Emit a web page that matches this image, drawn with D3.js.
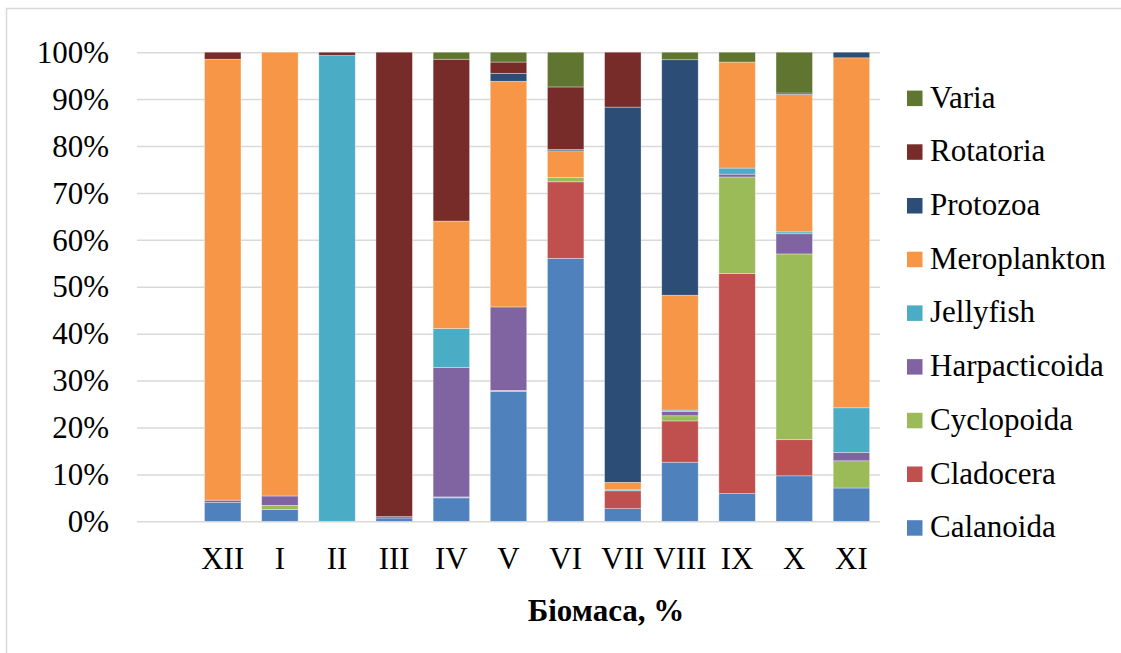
<!DOCTYPE html>
<html>
<head>
<meta charset="utf-8">
<script src="https://cdn.jsdelivr.net/npm/d3@7/dist/d3.min.js"></script>
<style>
  html, body { margin: 0; padding: 0; background: #fff; }
  svg { display: block; }
  text { font-family: "Liberation Serif", "Times New Roman", serif; fill: #000; }
</style>
</head>
<body>
<svg id="chart" width="1121" height="653"></svg>
<script>
// Months of the survey (Roman numerals), December to November
const months = ["XII", "I", "II", "III", "IV", "V", "VI", "VII", "VIII", "IX", "X", "XI"];

// Share of total biomass per group, %
const calanoida     = [4.0, 2.5, 0, 0.7, 5.0, 27.7, 56.0, 2.7, 12.6, 5.9, 9.7, 7.1];
const cladocera     = [0, 0, 0, 0, 0, 0.1, 16.3, 3.8, 8.8, 46.9, 7.7, 0];
const cyclopoida    = [0, 0.9, 0, 0, 0.2, 0.1, 0.9, 0, 1.1, 20.6, 39.6, 5.8];
const harpacticoida = [0.5, 2.0, 0, 0.3, 27.6, 17.8, 0, 0, 0.9, 0.6, 4.3, 1.8];
const jellyfish     = [0, 0, 99.3, 0, 8.3, 0, 0, 0.2, 0.3, 1.3, 0.4, 9.5];
const meroplankton  = [94.0, 94.6, 0, 0, 22.9, 48.1, 5.7, 1.6, 24.5, 22.6, 29.3, 74.6];
const protozoa      = [0, 0, 0, 0, 0, 1.7, 0.3, 79.9, 50.2, 0, 0.3, 1.2];
const rotatoria     = [1.5, 0, 0.7, 99.0, 34.5, 2.4, 13.3, 11.7, 0, 0, 0, 0];
const varia         = [0, 0, 0, 0, 1.5, 2.1, 7.4, 0, 1.6, 2.1, 8.7, 0];

const groupNames = ["Calanoida", "Cladocera", "Cyclopoida", "Harpacticoida", "Jellyfish",
                    "Meroplankton", "Protozoa", "Rotatoria", "Varia"];
const groupValues = [calanoida, cladocera, cyclopoida, harpacticoida, jellyfish,
                     meroplankton, protozoa, rotatoria, varia];
const groupColors = ["#4F81BD", "#C0504D", "#9BBB59", "#8064A2", "#4BACC6",
                     "#F79646", "#2C4D75", "#772C2A", "#5F7530"];

const yTicks = [0, 0.1, 0.2, 0.3, 0.4, 0.5, 0.6, 0.7, 0.8, 0.9, 1];
const axisTitle = "Біомаса, %";

const serif = "'Liberation Serif', 'Times New Roman', serif";

// One row per month for the stack layout
const rows = months.map((m, i) => {
  const r = { month: m };
  groupNames.forEach((g, k) => { r[g] = groupValues[k][i]; });
  return r;
});

const svg = d3.select("#chart");

// Chart-area frame
svg.append("rect")
  .attr("x", 6.5).attr("y", 8.5)
  .attr("width", 1200).attr("height", 700)
  .attr("fill", "none").attr("stroke", "#d9d9d9").attr("stroke-width", 1.5);

const plot = { left: 137, right: 880, top: 52.2, bottom: 521.3 };

// The category axis keeps an empty leading slot before December
const x = d3.scaleBand()
  .domain([""].concat(months))
  .range([plot.left, plot.right])
  .paddingInner(0.362)
  .paddingOuter(0.181);

const y = d3.scaleLinear().domain([0, 1]).range([plot.bottom, plot.top]);

// Horizontal gridlines and percent labels
const yAxis = d3.axisLeft(y)
  .tickValues(yTicks)
  .tickFormat(d3.format(".0%"))
  .tickSize(-(plot.right - plot.left))
  .tickPadding(28);

const gy = svg.append("g")
  .attr("transform", `translate(${plot.left},0)`)
  .call(yAxis)
  .attr("font-family", serif)
  .attr("font-size", 31);
gy.select(".domain").remove();
gy.selectAll(".tick line").attr("stroke", "#d9d9d9").attr("stroke-width", 1.5);
gy.selectAll(".tick text")
  .style("font-family", serif)
  .style("font-size", "31px")
  .attr("fill", "#000")
  .attr("dy", "0.33em");

// Stacked 100% bars
const stack = d3.stack().keys(groupNames).offset(d3.stackOffsetExpand);
const series = stack(rows);

svg.append("g")
  .selectAll("g")
  .data(series)
  .join("g")
  .attr("fill", (d, i) => groupColors[i])
  .selectAll("rect")
  .data(d => d)
  .join("rect")
  .attr("x", d => x(d.data.month))
  .attr("width", x.bandwidth())
  .attr("y", d => y(d[1]))
  .attr("height", d => Math.max(0, y(d[0]) - y(d[1])))
  .attr("stroke", "rgba(255,255,255,0.45)")
  .attr("stroke-width", 0.75);

// Month labels
const xAxis = d3.axisBottom(x).tickSize(0).tickPadding(0);
const gx = svg.append("g")
  .attr("transform", `translate(0,${plot.bottom})`)
  .call(xAxis)
  .attr("font-family", serif)
  .attr("font-size", 31);
gx.select(".domain").remove();
gx.selectAll(".tick text")
  .style("font-family", serif)
  .style("font-size", "31px")
  .attr("fill", "#000")
  .attr("y", 48)
  .attr("dy", 0);

// Axis title
svg.append("text")
  .attr("x", 606).attr("y", 621)
  .attr("text-anchor", "middle")
  .style("font-size", "31px")
  .style("font-weight", "bold")
  .text(axisTitle);

// Legend, top entry is the top of the stack
const legendOrder = groupNames.map((g, i) => i).reverse();
const legend = svg.append("g");
const legendItems = legend.selectAll("g")
  .data(legendOrder)
  .join("g")
  .attr("transform", (d, j) => `translate(907,${98.3 + j * 53.7})`);
legendItems.append("rect")
  .attr("x", 0).attr("y", -7.7)
  .attr("width", 15.5).attr("height", 15.5)
  .attr("fill", d => groupColors[d]);
legendItems.append("text")
  .attr("x", 23).attr("y", 9.3)
  .style("font-size", "31px")
  .text(d => groupNames[d]);
</script>
</body>
</html>
